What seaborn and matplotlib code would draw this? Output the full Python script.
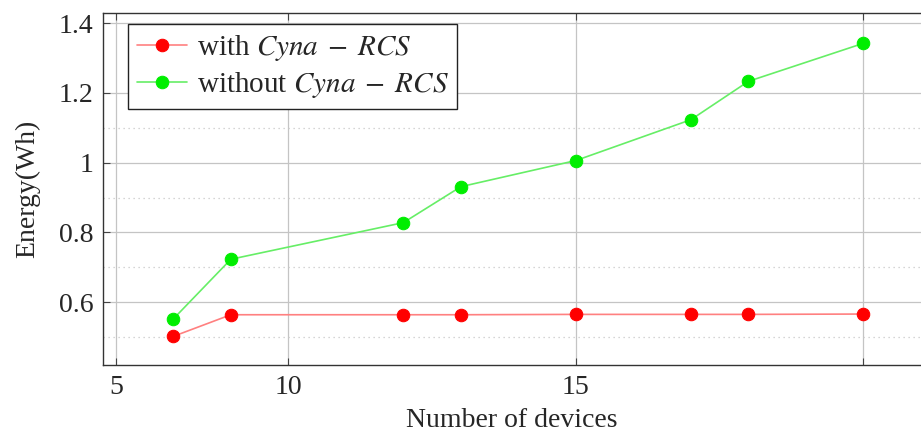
"""
Energy vs number of devices, with and without Cyna-RCS.
"""
import matplotlib
matplotlib.use("Agg")
import matplotlib.pyplot as plt
from matplotlib.ticker import FixedLocator, FixedFormatter
import seaborn as sns

# data
devices = [8, 9, 12, 13, 15, 17, 18, 20]
energy_with = [0.502, 0.564, 0.564, 0.564, 0.565, 0.565, 0.565, 0.566]
energy_without = [0.552, 0.723, 0.828, 0.931, 1.006, 1.123, 1.233, 1.342]

# tick positions / labels as printed on the original axis
x_ticks = [7, 10, 15, 20]
x_tick_labels = ["5", "10", "15", ""]
y_ticks = [0.6, 0.8, 1.0, 1.2, 1.4]
y_tick_labels = ["0.6", "0.8", "1", "1.2", "1.4"]
y_minor = [0.5, 0.7, 0.9, 1.1]


def main():
    sns.set_theme(style="white")
    plt.rcParams["font.family"] = ["Liberation Serif", "DejaVu Serif"]
    plt.rcParams["mathtext.fontset"] = "stix"

    fig = plt.figure(figsize=(9.21, 4.38), dpi=100)
    ax = fig.add_axes([0.112, 0.1667, 0.888, 0.803])

    sns.lineplot(x=devices, y=energy_with, ax=ax, color="#ff8080", lw=1.2,
                 marker="o", markersize=9, markerfacecolor="#ff0000",
                 markeredgecolor="#ff0000", label=r"with $Cyna\;-\;RCS$")
    sns.lineplot(x=devices, y=energy_without, ax=ax, color="#66ee66", lw=1.2,
                 marker="o", markersize=9, markerfacecolor="#00ee00",
                 markeredgecolor="#00ee00", label=r"without $Cyna\;-\;RCS$")

    ax.set_xlim(6.78, 21.0)
    ax.set_ylim(0.42, 1.428)

    ax.xaxis.set_major_locator(FixedLocator(x_ticks))
    ax.xaxis.set_major_formatter(FixedFormatter(x_tick_labels))
    ax.yaxis.set_major_locator(FixedLocator(y_ticks))
    ax.yaxis.set_major_formatter(FixedFormatter(y_tick_labels))
    ax.yaxis.set_minor_locator(FixedLocator(y_minor))

    ax.grid(True, which="major", color="#c4c4c4", lw=0.9, ls="-")
    ax.grid(True, which="minor", axis="y", color="#c8c8c8", lw=0.9, ls=(0, (1, 3)))
    ax.set_axisbelow(True)

    ax.tick_params(axis="both", which="major", direction="in", length=5,
                   width=0.8, color="#444444", labelsize=20, top=True,
                   right=False, bottom=True, left=True, pad=7)
    ax.tick_params(axis="y", which="minor", length=0)

    for side in ["left", "top", "bottom"]:
        ax.spines[side].set_color("#333333")
        ax.spines[side].set_linewidth(1.0)
    ax.spines["right"].set_visible(False)

    ax.set_xlabel("Number of devices", fontsize=20, labelpad=6)
    ax.set_ylabel("Energy(Wh)", fontsize=20, labelpad=13)

    leg = ax.legend(loc="upper left", bbox_to_anchor=(0.0306, 0.9696),
                    borderaxespad=0, fancybox=False, framealpha=1,
                    edgecolor="#222222", fontsize=21, handlelength=1.7,
                    handletextpad=0.35, borderpad=0.3, labelspacing=0.25)
    leg.get_frame().set_linewidth(1.0)

    fig.savefig("out.png", dpi=100)


if __name__ == "__main__":
    main()
